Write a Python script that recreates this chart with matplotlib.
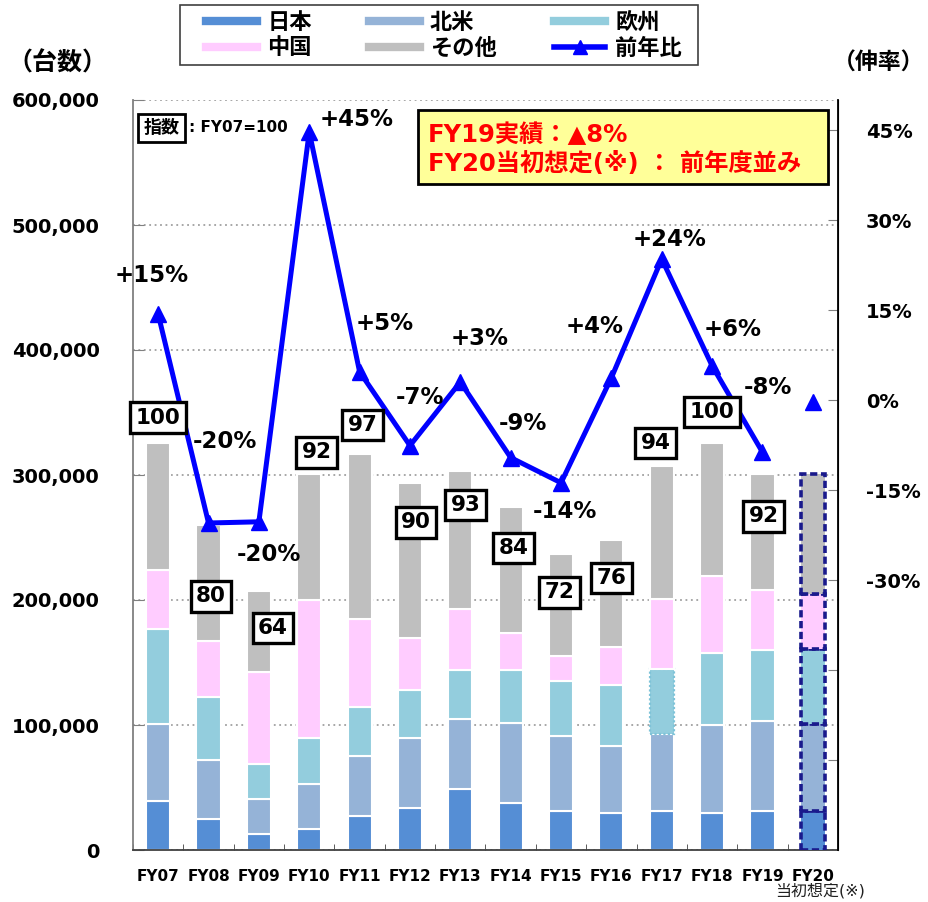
import numpy as np
import matplotlib
matplotlib.use("Agg")
import matplotlib.pyplot as plt
from matplotlib.lines import Line2D
from matplotlib.patches import Rectangle
import matplotlib.transforms as mtransforms

plt.rcParams['font.family'] = ['DejaVu Sans', 'Noto Sans CJK JP']

# ---------------- data ----------------
categories = ["FY07", "FY08", "FY09", "FY10", "FY11", "FY12", "FY13",
              "FY14", "FY15", "FY16", "FY17", "FY18", "FY19", "FY20"]
japan = [39000, 24500, 13000, 16500, 27000, 34000, 48500, 38000, 31000, 29500, 31000, 30000, 31500, 31000]
north_america = [62000, 47500, 28000, 36500, 48000, 56000, 56500, 64000, 60000, 53500, 62000, 70000, 72000, 70000]
europe = [76000, 50500, 27500, 37000, 39500, 38000, 39000, 42000, 44000, 49000, 52000, 58000, 56500, 60000]
china = [47000, 44500, 74000, 110000, 70000, 41500, 49000, 30000, 20000, 30500, 55500, 61000, 48000, 44000]
other = [102000, 93000, 64500, 100500, 132000, 124500, 110500, 100500, 82000, 85500, 106500, 107000, 93000, 95500]
index_values = ["100", "80", "64", "92", "97", "90", "93", "84", "72", "76", "94", "100", "92"]
yoy_rate = [14.3, -20.5, -20.3, 44.7, 4.7, -7.6, 3.0, -9.6, -13.8, 3.7, 23.5, 5.7, -8.7, -0.3]
yoy_labels = ["+15%", "-20%", "-20%", "+45%", "+5%", "-7%", "+3%", "-9%", "-14%",
              "+4%", "+24%", "+6%", "-8%"]
series_names = ["日本", "北米", "欧州", "中国", "その他"]
line_name = "前年比"
left_ticks = [0, 100000, 200000, 300000, 400000, 500000, 600000]
right_ticks = [-60, -45, -30, -15, 0, 15, 30, 45]

# label positions (category position, value)
index_pos_x = [0.0, 1.05, 2.28, 3.15, 4.06, 5.12, 6.1, 7.06, 7.97, 9.0, 9.88, 11.0, 12.02]
index_pos_y = [346000, 203000, 177600, 318000, 340000, 262000, 276000, 241600, 206000, 217600, 325600, 350400, 267000]
rate_pos_x = [-0.12, 1.33, 2.2, 3.95, 4.5, 5.2, 6.38, 7.25, 8.07, 8.67, 10.15, 11.4, 12.1]
rate_pos_y = [20.8, -7.0, -25.8, 46.7, 12.8, 0.5, 10.3, -4.0, -18.5, 12.3, 26.8, 11.8, 2.0]

colors = ["#558ED5", "#95B3D7", "#93CDDD", "#FFCCFF", "#BFBFBF"]
line_color = "#0000FF"

# ---------------- figure ----------------
fig = plt.figure(figsize=(9.29, 9.02), dpi=100)
ax = fig.add_axes([133/929, 1-850/902, 705/929, 750/902])
x = np.arange(len(categories))
width = 0.48

series = [japan, north_america, europe, china, other]
bottom = np.zeros(len(categories))
containers = []
for vals, col in zip(series, colors):
    bc = ax.bar(x, vals, width, bottom=bottom, color=col, edgecolor="white",
                linewidth=1.5, zorder=2)
    containers.append(bc)
    bottom += np.array(vals)

# FY20 planned bars: dashed navy outline
for bc in containers:
    p = bc.patches[13]
    p.set_edgecolor("#1A1A8C")
    p.set_linestyle((0, (2, 1)))
    p.set_linewidth(2.6)
    p.set_zorder(3)
# FY17 Europe dotted outline
p = containers[2].patches[10]
p.set_edgecolor("#7EC3D8")
p.set_linestyle((0, (1, 1)))
p.set_linewidth(1.6)

ax.set_xlim(-0.5, 13.5)
ax.set_ylim(0, 600000)
ax.set_yticks(left_ticks)
ax.set_yticklabels([f"{v:,}" for v in left_ticks], fontsize=14, fontweight="bold")
ax.set_xticks(x)
ax.set_xticklabels(categories, fontsize=11, fontweight="bold")
ax.set_xticks(np.arange(-0.5, 13.6, 1), minor=True)
ax.tick_params(axis="x", which="major", length=0, pad=14)
ax.tick_params(axis="x", which="minor", direction="in", length=4, color="#404040")
ax.tick_params(axis="y", direction="in", length=8, color="#808080", pad=24)
ax.yaxis.grid(True, linestyle=(0, (1, 2)), color="#A0A0A0", linewidth=1.3)
ax.set_axisbelow(True)
ax.spines["top"].set_visible(False)
ax.spines["left"].set_color("#808080")
ax.spines["left"].set_linewidth(1.3)
ax.spines["bottom"].set_color("#404040")
ax.spines["bottom"].set_linewidth(1.3)

# secondary axis
ax2 = ax.twinx()
ax2.set_ylim(-75, 50)
ax2.set_yticks(right_ticks)
ax2.set_yticklabels(["" if v < -30 else f"{v}%" for v in right_ticks],
                    fontsize=14, fontweight="bold")
ax2.tick_params(axis="y", direction="in", length=7, color="#808080", pad=20)
ax2.spines["top"].set_visible(False)
ax2.spines["left"].set_visible(False)
ax2.spines["bottom"].set_visible(False)
ax2.spines["right"].set_color("black")
ax2.spines["right"].set_linewidth(1.3)

ax2.plot(x[:13], yoy_rate[:13], color=line_color, lw=3.6, marker="^",
         markersize=12, zorder=4)
ax2.plot([x[13]], [yoy_rate[13]], color=line_color, lw=0, marker="^",
         markersize=12, zorder=4)

# rate labels
for px, py, t in zip(rate_pos_x, rate_pos_y, yoy_labels):
    ax2.text(px, py, t, fontsize=16.5, fontweight="bold", ha="center",
             va="center", zorder=6)

# index boxes
for px, py, t in zip(index_pos_x, index_pos_y, index_values):
    ax2.text(px, py, t, transform=ax.transData, fontsize=15.5,
             fontweight="bold", ha="center", va="center", zorder=7,
             bbox=dict(boxstyle="square,pad=0.25", facecolor="white",
                       edgecolor="black", linewidth=2.4))

# 指数 box
ax2.text(0.04, 0.9627, "指数", transform=ax.transAxes, fontsize=13,
         fontweight="bold", ha="center", va="center", zorder=7,
         bbox=dict(boxstyle="square,pad=0.3", facecolor="white",
                   edgecolor="black", linewidth=2))
ax2.text(0.079, 0.9627, ": FY07=100", transform=ax.transAxes, fontsize=11,
         fontweight="bold", ha="left", va="center", zorder=7)

# yellow annotation box
rect = Rectangle(((418-133)/705, (850-184)/750), (828-418)/705, (184-110)/750,
                 transform=ax.transAxes, facecolor="#FFFF99", edgecolor="black",
                 linewidth=2, zorder=6)
ax2.add_patch(rect)
ax2.text((428-133)/705, (850-135)/750, "FY19実績：▲8%", transform=ax.transAxes,
         color="#FF0000", fontsize=17.5, fontweight="bold", ha="left",
         va="center", zorder=7)
ax2.text((428-133)/705, (850-164)/750, "FY20当初想定(※) ： 前年度並み",
         transform=ax.transAxes, color="#FF0000", fontsize=17.5,
         fontweight="bold", ha="left", va="center", zorder=7)

# extra x label
trans = mtransforms.blended_transform_factory(ax.transData, ax.transAxes)
ax.text(13.15, -0.0547, "当初想定(※)", transform=trans, fontsize=11.5,
        ha="center", va="center", color="#202020")

# axis titles
fig.text(57/929, 1-63/902, "（台数）", fontsize=18, fontweight="bold",
         ha="center", va="center")
fig.text(879/929, 1-63/902, "（伸率）", fontsize=16.5, fontweight="bold",
         ha="center", va="center")

# legend frame + legend (row-wise order)
fig.patches.append(Rectangle((180/929, 1-65/902), 518/929, 60/902,
                             transform=fig.transFigure, facecolor="white",
                             edgecolor="#404040", linewidth=1.2, zorder=0))
h = [Line2D([0], [0], color=c, lw=6) for c in colors]
h_line = Line2D([0], [0], color=line_color, lw=4, marker="^", markersize=10)
handles = [h[0], h[3], h[1], h[4], h[2], h_line]
labels = [series_names[0], series_names[3], series_names[1], series_names[4],
          series_names[2], line_name]
leg = fig.legend(handles, labels, loc="center left",
                 bbox_to_anchor=(206/929, 1-65/902, (682-206)/929, 60/902),
                 mode="expand", ncol=3, frameon=False, borderaxespad=0,
                 handlelength=2.3, handletextpad=0.45, borderpad=0.0,
                 labelspacing=0.22,
                 prop={"weight": "bold", "size": 16})

fig.savefig("out.png", dpi=100)
